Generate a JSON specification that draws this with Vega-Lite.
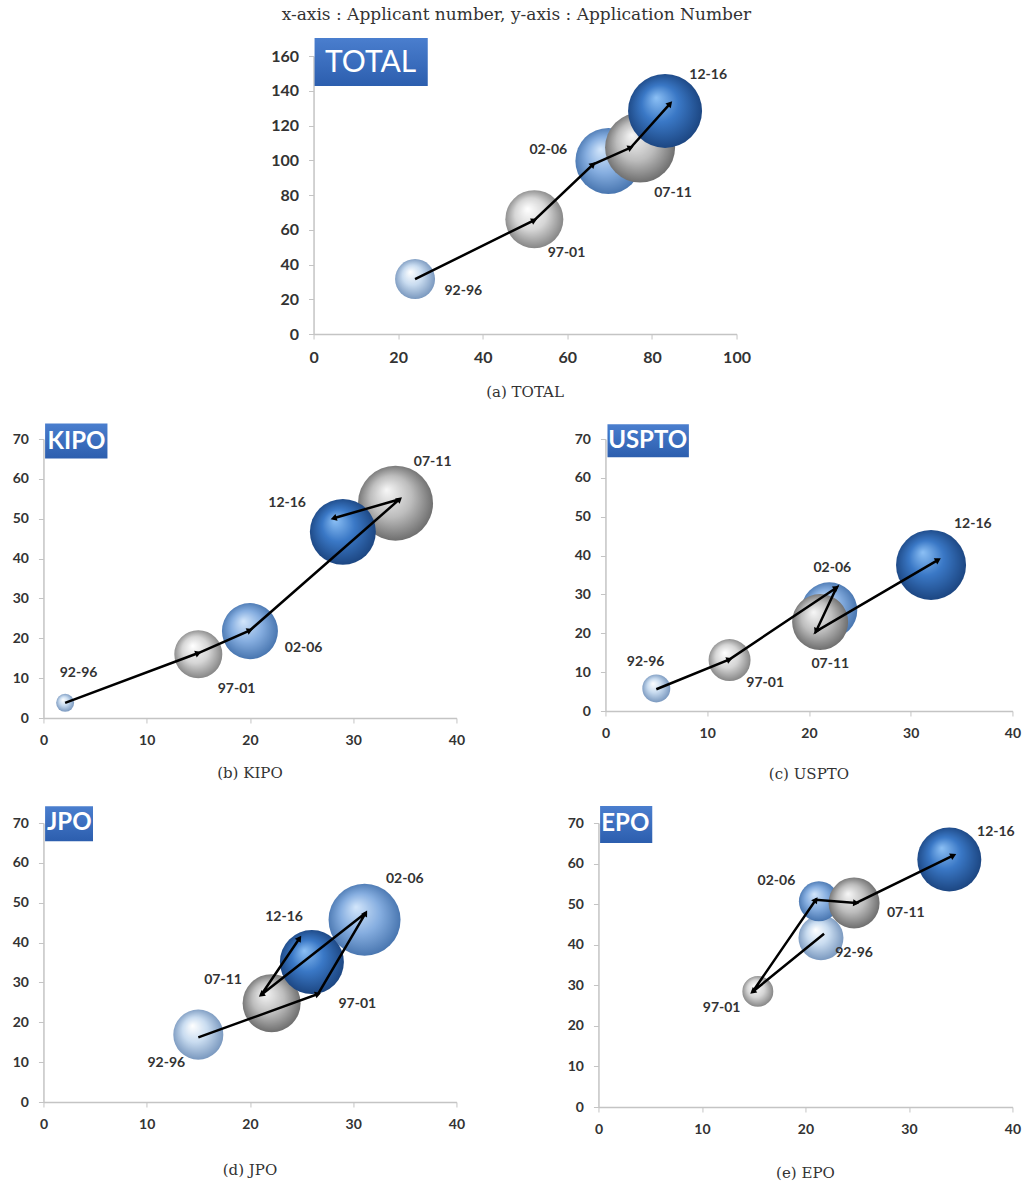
{
  "$schema": "https://vega.github.io/schema/vega-lite/v6.json",
  "padding": {"left": 12, "right": 5, "top": 5, "bottom": 5},
  "background": "white",
  "title": {"text": "x-axis : Applicant number, y-axis : Application Number", "font": "DejaVu Serif", "fontSize": 17, "fontWeight": "normal", "color": "#333333", "anchor": "middle", "offset": 14},
  "spacing": 23,
  "center": true,
  "datasets": {
    "pts": [
      {"panel": "TOTAL", "period": "92-96", "seq": 1, "x": 24.0, "y": 31.6, "z": 29.2, "ax": 24.0, "ay": 31.6, "ang": 0, "lx": 35.4, "ly": 24.9},
      {"panel": "TOTAL", "period": "97-01", "seq": 2, "x": 52.2, "y": 66.1, "z": 61.4, "ax": 52.2, "ay": 65.5, "ang": 63.7, "lx": 59.8, "ly": 46.4},
      {"panel": "TOTAL", "period": "02-06", "seq": 3, "x": 69.7, "y": 99.6, "z": 79.5, "ax": 66.1, "ay": 97.7, "ang": 46.5, "lx": 55.5, "ly": 105.8},
      {"panel": "TOTAL", "period": "07-11", "seq": 4, "x": 77.2, "y": 107.3, "z": 89.5, "ax": 75.0, "ay": 107.3, "ang": 66.1, "lx": 85.0, "ly": 81.0},
      {"panel": "TOTAL", "period": "12-16", "seq": 5, "x": 83.1, "y": 128.4, "z": 100, "ax": 84.3, "ay": 132.6, "ang": 41.6, "lx": 93.3, "ly": 149.1},
      {"panel": "KIPO", "period": "92-96", "seq": 1, "x": 2.1, "y": 3.8, "z": 5.9, "ax": 2.1, "ay": 3.8, "ang": 0, "lx": 3.4, "ly": 11.4},
      {"panel": "KIPO", "period": "97-01", "seq": 2, "x": 15.0, "y": 16.0, "z": 42.1, "ax": 15.0, "ay": 16.3, "ang": 69.4, "lx": 18.7, "ly": 7.4},
      {"panel": "KIPO", "period": "02-06", "seq": 3, "x": 20.0, "y": 21.8, "z": 57.3, "ax": 20.0, "ay": 22.0, "ang": 65.4, "lx": 25.2, "ly": 17.6},
      {"panel": "KIPO", "period": "07-11", "seq": 4, "x": 34.1, "y": 53.9, "z": 102.7, "ax": 34.5, "ay": 54.9, "ang": 48.9, "lx": 37.7, "ly": 64.3},
      {"panel": "KIPO", "period": "12-16", "seq": 5, "x": 29.0, "y": 46.7, "z": 79.5, "ax": 28.1, "ay": 50.1, "ang": 253.6, "lx": 23.6, "ly": 53.9},
      {"panel": "USPTO", "period": "92-96", "seq": 1, "x": 5.0, "y": 5.8, "z": 14.3, "ax": 5.0, "ay": 5.6, "ang": 0, "lx": 3.95, "ly": 12.5},
      {"panel": "USPTO", "period": "97-01", "seq": 2, "x": 12.2, "y": 13.1, "z": 32.2, "ax": 12.2, "ay": 13.3, "ang": 67.2, "lx": 15.7, "ly": 7.1},
      {"panel": "USPTO", "period": "02-06", "seq": 3, "x": 22.0, "y": 25.9, "z": 57.3, "ax": 22.7, "ay": 31.7, "ang": 56.1, "lx": 22.3, "ly": 36.9},
      {"panel": "USPTO", "period": "07-11", "seq": 4, "x": 21.1, "y": 22.9, "z": 57.3, "ax": 20.7, "ay": 20.5, "ang": 204.6, "lx": 22.1, "ly": 12.0},
      {"panel": "USPTO", "period": "12-16", "seq": 5, "x": 32.0, "y": 37.6, "z": 89.5, "ax": 32.7, "ay": 38.9, "ang": 59.4, "lx": 36.1, "ly": 48.2},
      {"panel": "JPO", "period": "92-96", "seq": 1, "x": 15.0, "y": 16.9, "z": 45.7, "ax": 15.0, "ay": 16.2, "ang": 0, "lx": 11.9, "ly": 9.8},
      {"panel": "JPO", "period": "97-01", "seq": 2, "x": 26.6, "y": 27.1, "z": 0, "ax": 26.6, "ay": 27.1, "ang": 70.1, "lx": 30.4, "ly": 24.6},
      {"panel": "JPO", "period": "02-06", "seq": 3, "x": 31.1, "y": 45.7, "z": 94.7, "ax": 31.2, "ay": 47.4, "ang": 30.5, "lx": 35.0, "ly": 56.0},
      {"panel": "JPO", "period": "07-11", "seq": 4, "x": 22.1, "y": 24.8, "z": 61.4, "ax": 21.1, "ay": 26.9, "ang": 232, "lx": 17.4, "ly": 30.5},
      {"panel": "JPO", "period": "12-16", "seq": 5, "x": 26.0, "y": 35.1, "z": 74.8, "ax": 24.8, "ay": 41.1, "ang": 34.1, "lx": 23.3, "ly": 46.3},
      {"panel": "EPO", "period": "92-96", "seq": 1, "x": 21.5, "y": 41.7, "z": 37.0, "ax": 21.8, "ay": 42.7, "ang": 0, "lx": 24.7, "ly": 38.0},
      {"panel": "EPO", "period": "97-01", "seq": 2, "x": 15.4, "y": 28.5, "z": 17.5, "ax": 14.9, "ay": 28.4, "ang": 231.3, "lx": 11.9, "ly": 24.3},
      {"panel": "EPO", "period": "02-06", "seq": 3, "x": 21.3, "y": 50.7, "z": 29.2, "ax": 21.0, "ay": 51.1, "ang": 34.7, "lx": 17.2, "ly": 55.6},
      {"panel": "EPO", "period": "07-11", "seq": 4, "x": 24.7, "y": 50.3, "z": 47.5, "ax": 24.9, "ay": 50.3, "ang": 94.7, "lx": 29.7, "ly": 47.8},
      {"panel": "EPO", "period": "12-16", "seq": 5, "x": 33.9, "y": 61.0, "z": 74.8, "ax": 34.3, "ay": 62.0, "ang": 64.1, "lx": 38.4, "ly": 67.9}
    ]
  },
  "vconcat": [
    {
      "width": 423, "height": 278,
      "title": {"text": "(a) TOTAL", "orient": "bottom", "offset": 20},
      "data": {"name": "pts"},
      "transform": [{"filter": "datum.panel === 'TOTAL'"}],
      "layer": [
        {"transform": [{"filter": "datum.period === '92-96'"}], "mark": {"type": "circle", "opacity": 1, "color": {"gradient": "radial", "x1": 0.38, "y1": 0.32, "r1": 0, "x2": 0.5, "y2": 0.5, "r2": 0.55, "stops": [{"offset": 0, "color": "#ffffff"}, {"offset": 0.45, "color": "#c9dcf0"}, {"offset": 1, "color": "#6f8fb8"}]}},
         "encoding": {
           "x": {"field": "x", "type": "quantitative", "scale": {"domain": [0, 100], "nice": false}, "axis": {"title": null, "values": [0, 20, 40, 60, 80, 100], "labelFontSize": 16}},
           "y": {"field": "y", "type": "quantitative", "scale": {"domain": [0, 160], "nice": false}, "axis": {"title": null, "values": [0, 20, 40, 60, 80, 100, 120, 140, 160], "labelFontSize": 16}},
           "size": {"field": "z", "type": "quantitative", "scale": {"domain": [0, 100], "range": [0, 5476]}, "legend": null}}},
        {"transform": [{"filter": "datum.period === '97-01'"}], "mark": {"type": "circle", "opacity": 1, "color": {"gradient": "radial", "x1": 0.38, "y1": 0.32, "r1": 0, "x2": 0.5, "y2": 0.5, "r2": 0.55, "stops": [{"offset": 0, "color": "#ffffff"}, {"offset": 0.5, "color": "#d6d6d6"}, {"offset": 1, "color": "#7a7a7a"}]}},
         "encoding": {"x": {"field": "x", "type": "quantitative", "axis": {"title": null, "values": [0, 20, 40, 60, 80, 100], "labelFontSize": 16}}, "y": {"field": "y", "type": "quantitative", "axis": {"title": null, "values": [0, 20, 40, 60, 80, 100, 120, 140, 160], "labelFontSize": 16}}, "size": {"field": "z", "type": "quantitative", "legend": null}}},
        {"transform": [{"filter": "datum.period === '02-06'"}], "mark": {"type": "circle", "opacity": 1, "color": {"gradient": "radial", "x1": 0.38, "y1": 0.32, "r1": 0, "x2": 0.5, "y2": 0.5, "r2": 0.55, "stops": [{"offset": 0, "color": "#d3e6fb"}, {"offset": 0.5, "color": "#86aee0"}, {"offset": 1, "color": "#3f6da8"}]}},
         "encoding": {"x": {"field": "x", "type": "quantitative", "axis": {"title": null, "values": [0, 20, 40, 60, 80, 100], "labelFontSize": 16}}, "y": {"field": "y", "type": "quantitative", "axis": {"title": null, "values": [0, 20, 40, 60, 80, 100, 120, 140, 160], "labelFontSize": 16}}, "size": {"field": "z", "type": "quantitative", "legend": null}}},
        {"transform": [{"filter": "datum.period === '07-11'"}], "mark": {"type": "circle", "opacity": 1, "color": {"gradient": "radial", "x1": 0.38, "y1": 0.32, "r1": 0, "x2": 0.5, "y2": 0.5, "r2": 0.55, "stops": [{"offset": 0, "color": "#f7f7f7"}, {"offset": 0.5, "color": "#bdbdbd"}, {"offset": 1, "color": "#626262"}]}},
         "encoding": {"x": {"field": "x", "type": "quantitative", "axis": {"title": null, "values": [0, 20, 40, 60, 80, 100], "labelFontSize": 16}}, "y": {"field": "y", "type": "quantitative", "axis": {"title": null, "values": [0, 20, 40, 60, 80, 100, 120, 140, 160], "labelFontSize": 16}}, "size": {"field": "z", "type": "quantitative", "legend": null}}},
        {"transform": [{"filter": "datum.period === '12-16'"}], "mark": {"type": "circle", "opacity": 1, "color": {"gradient": "radial", "x1": 0.38, "y1": 0.32, "r1": 0, "x2": 0.5, "y2": 0.5, "r2": 0.55, "stops": [{"offset": 0, "color": "#8cc0f5"}, {"offset": 0.45, "color": "#3a78c6"}, {"offset": 1, "color": "#183f78"}]}},
         "encoding": {"x": {"field": "x", "type": "quantitative", "axis": {"title": null, "values": [0, 20, 40, 60, 80, 100], "labelFontSize": 16}}, "y": {"field": "y", "type": "quantitative", "axis": {"title": null, "values": [0, 20, 40, 60, 80, 100, 120, 140, 160], "labelFontSize": 16}}, "size": {"field": "z", "type": "quantitative", "legend": null}}},
        {"mark": {"type": "line", "color": "black", "strokeWidth": 2.5},
         "encoding": {"x": {"field": "ax", "type": "quantitative", "axis": {"title": null, "values": [0, 20, 40, 60, 80, 100], "labelFontSize": 16}}, "y": {"field": "ay", "type": "quantitative", "axis": {"title": null, "values": [0, 20, 40, 60, 80, 100, 120, 140, 160], "labelFontSize": 16}}, "order": {"field": "seq"}}},
        {"transform": [{"filter": "datum.seq > 1"}],
         "mark": {"type": "point", "shape": "triangle-up", "filled": true, "color": "black", "opacity": 1, "size": 50},
         "encoding": {"x": {"field": "ax", "type": "quantitative", "axis": {"title": null, "values": [0, 20, 40, 60, 80, 100], "labelFontSize": 16}}, "y": {"field": "ay", "type": "quantitative", "axis": {"title": null, "values": [0, 20, 40, 60, 80, 100, 120, 140, 160], "labelFontSize": 16}}, "angle": {"field": "ang", "type": "quantitative", "scale": null}}},
        {"mark": {"type": "text", "font": "Lato", "fontWeight": "bold", "fontSize": 14, "color": "#333333"},
         "encoding": {"x": {"field": "lx", "type": "quantitative", "axis": {"title": null, "values": [0, 20, 40, 60, 80, 100], "labelFontSize": 16}}, "y": {"field": "ly", "type": "quantitative", "axis": {"title": null, "values": [0, 20, 40, 60, 80, 100, 120, 140, 160], "labelFontSize": 16}}, "text": {"field": "period"}}},
        {"data": {"values": [{}]},
         "mark": {"type": "rect", "color": {"gradient": "linear", "x1": 0, "y1": 0, "x2": 0, "y2": 1, "stops": [{"offset": 0, "color": "#4a7ece"}, {"offset": 1, "color": "#2c5eae"}]}},
         "encoding": {"x": {"datum": 0.24, "axis": {"title": null, "values": [0, 20, 40, 60, 80, 100], "labelFontSize": 16}}, "x2": {"datum": 27.0}, "y": {"datum": 170.4, "axis": {"title": null, "values": [0, 20, 40, 60, 80, 100, 120, 140, 160], "labelFontSize": 16}}, "y2": {"datum": 142.7}}},
        {"data": {"values": [{}]},
         "mark": {"type": "text", "text": "TOTAL", "color": "white", "font": "Lato", "fontSize": 30},
         "encoding": {"x": {"datum": 13.5, "axis": {"title": null, "values": [0, 20, 40, 60, 80, 100], "labelFontSize": 16}}, "y": {"datum": 156.0, "axis": {"title": null, "values": [0, 20, 40, 60, 80, 100, 120, 140, 160], "labelFontSize": 16}}}}
      ]
    },
    {
      "spacing": 108,
      "hconcat": [
        {
          "width": 413, "height": 279,
          "title": {"text": "(b) KIPO", "orient": "bottom", "offset": 19},
          "data": {"name": "pts"},
          "transform": [{"filter": "datum.panel === 'KIPO'"}],
          "layer": [
            {"transform": [{"filter": "datum.period === '92-96'"}], "mark": {"type": "circle", "opacity": 1, "color": {"gradient": "radial", "x1": 0.38, "y1": 0.32, "r1": 0, "x2": 0.5, "y2": 0.5, "r2": 0.55, "stops": [{"offset": 0, "color": "#ffffff"}, {"offset": 0.45, "color": "#c9dcf0"}, {"offset": 1, "color": "#6f8fb8"}]}},
             "encoding": {
               "x": {"field": "x", "type": "quantitative", "scale": {"domain": [0, 40], "nice": false}, "axis": {"title": null, "values": [0, 10, 20, 30, 40]}},
               "y": {"field": "y", "type": "quantitative", "scale": {"domain": [0, 70], "nice": false}, "axis": {"title": null, "values": [0, 10, 20, 30, 40, 50, 60, 70]}},
               "size": {"field": "z", "type": "quantitative", "scale": {"domain": [0, 100], "range": [0, 5476]}, "legend": null}}},
            {"transform": [{"filter": "datum.period === '97-01'"}], "mark": {"type": "circle", "opacity": 1, "color": {"gradient": "radial", "x1": 0.38, "y1": 0.32, "r1": 0, "x2": 0.5, "y2": 0.5, "r2": 0.55, "stops": [{"offset": 0, "color": "#ffffff"}, {"offset": 0.5, "color": "#d6d6d6"}, {"offset": 1, "color": "#7a7a7a"}]}},
             "encoding": {"x": {"field": "x", "type": "quantitative", "axis": {"title": null, "values": [0, 10, 20, 30, 40]}}, "y": {"field": "y", "type": "quantitative", "axis": {"title": null, "values": [0, 10, 20, 30, 40, 50, 60, 70]}}, "size": {"field": "z", "type": "quantitative", "legend": null}}},
            {"transform": [{"filter": "datum.period === '02-06'"}], "mark": {"type": "circle", "opacity": 1, "color": {"gradient": "radial", "x1": 0.38, "y1": 0.32, "r1": 0, "x2": 0.5, "y2": 0.5, "r2": 0.55, "stops": [{"offset": 0, "color": "#d3e6fb"}, {"offset": 0.5, "color": "#86aee0"}, {"offset": 1, "color": "#3f6da8"}]}},
             "encoding": {"x": {"field": "x", "type": "quantitative", "axis": {"title": null, "values": [0, 10, 20, 30, 40]}}, "y": {"field": "y", "type": "quantitative", "axis": {"title": null, "values": [0, 10, 20, 30, 40, 50, 60, 70]}}, "size": {"field": "z", "type": "quantitative", "legend": null}}},
            {"transform": [{"filter": "datum.period === '07-11'"}], "mark": {"type": "circle", "opacity": 1, "color": {"gradient": "radial", "x1": 0.38, "y1": 0.32, "r1": 0, "x2": 0.5, "y2": 0.5, "r2": 0.55, "stops": [{"offset": 0, "color": "#f7f7f7"}, {"offset": 0.5, "color": "#bdbdbd"}, {"offset": 1, "color": "#626262"}]}},
             "encoding": {"x": {"field": "x", "type": "quantitative", "axis": {"title": null, "values": [0, 10, 20, 30, 40]}}, "y": {"field": "y", "type": "quantitative", "axis": {"title": null, "values": [0, 10, 20, 30, 40, 50, 60, 70]}}, "size": {"field": "z", "type": "quantitative", "legend": null}}},
            {"transform": [{"filter": "datum.period === '12-16'"}], "mark": {"type": "circle", "opacity": 1, "color": {"gradient": "radial", "x1": 0.38, "y1": 0.32, "r1": 0, "x2": 0.5, "y2": 0.5, "r2": 0.55, "stops": [{"offset": 0, "color": "#8cc0f5"}, {"offset": 0.45, "color": "#3a78c6"}, {"offset": 1, "color": "#183f78"}]}},
             "encoding": {"x": {"field": "x", "type": "quantitative", "axis": {"title": null, "values": [0, 10, 20, 30, 40]}}, "y": {"field": "y", "type": "quantitative", "axis": {"title": null, "values": [0, 10, 20, 30, 40, 50, 60, 70]}}, "size": {"field": "z", "type": "quantitative", "legend": null}}},
            {"mark": {"type": "line", "color": "black", "strokeWidth": 2.5},
             "encoding": {"x": {"field": "ax", "type": "quantitative", "axis": {"title": null, "values": [0, 10, 20, 30, 40]}}, "y": {"field": "ay", "type": "quantitative", "axis": {"title": null, "values": [0, 10, 20, 30, 40, 50, 60, 70]}}, "order": {"field": "seq"}}},
            {"transform": [{"filter": "datum.seq > 1"}],
             "mark": {"type": "point", "shape": "triangle-up", "filled": true, "color": "black", "opacity": 1, "size": 50},
             "encoding": {"x": {"field": "ax", "type": "quantitative", "axis": {"title": null, "values": [0, 10, 20, 30, 40]}}, "y": {"field": "ay", "type": "quantitative", "axis": {"title": null, "values": [0, 10, 20, 30, 40, 50, 60, 70]}}, "angle": {"field": "ang", "type": "quantitative", "scale": null}}},
            {"mark": {"type": "text", "font": "Lato", "fontWeight": "bold", "fontSize": 14, "color": "#333333"},
             "encoding": {"x": {"field": "lx", "type": "quantitative", "axis": {"title": null, "values": [0, 10, 20, 30, 40]}}, "y": {"field": "ly", "type": "quantitative", "axis": {"title": null, "values": [0, 10, 20, 30, 40, 50, 60, 70]}}, "text": {"field": "period"}}},
            {"data": {"values": [{}]},
             "mark": {"type": "rect", "color": {"gradient": "linear", "x1": 0, "y1": 0, "x2": 0, "y2": 1, "stops": [{"offset": 0, "color": "#4a7ece"}, {"offset": 1, "color": "#2c5eae"}]}},
             "encoding": {"x": {"datum": 0.16, "axis": {"title": null, "values": [0, 10, 20, 30, 40]}}, "x2": {"datum": 6.2}, "y": {"datum": 73.9, "axis": {"title": null, "values": [0, 10, 20, 30, 40, 50, 60, 70]}}, "y2": {"datum": 65.1}}},
            {"data": {"values": [{}]},
             "mark": {"type": "text", "text": "KIPO", "color": "white", "font": "Lato", "fontWeight": "bold", "fontSize": 24},
             "encoding": {"x": {"datum": 3.2, "axis": {"title": null, "values": [0, 10, 20, 30, 40]}}, "y": {"datum": 69.3, "axis": {"title": null, "values": [0, 10, 20, 30, 40, 50, 60, 70]}}}}
          ]
        },
        {
          "width": 407, "height": 272,
          "title": {"text": "(c) USPTO", "orient": "bottom", "offset": 27},
          "data": {"name": "pts"},
          "transform": [{"filter": "datum.panel === 'USPTO'"}],
          "layer": [
            {"transform": [{"filter": "datum.period === '92-96'"}], "mark": {"type": "circle", "opacity": 1, "color": {"gradient": "radial", "x1": 0.38, "y1": 0.32, "r1": 0, "x2": 0.5, "y2": 0.5, "r2": 0.55, "stops": [{"offset": 0, "color": "#ffffff"}, {"offset": 0.45, "color": "#c9dcf0"}, {"offset": 1, "color": "#6f8fb8"}]}},
             "encoding": {
               "x": {"field": "x", "type": "quantitative", "scale": {"domain": [0, 40], "nice": false}, "axis": {"title": null, "values": [0, 10, 20, 30, 40]}},
               "y": {"field": "y", "type": "quantitative", "scale": {"domain": [0, 70], "nice": false}, "axis": {"title": null, "values": [0, 10, 20, 30, 40, 50, 60, 70]}},
               "size": {"field": "z", "type": "quantitative", "scale": {"domain": [0, 100], "range": [0, 5476]}, "legend": null}}},
            {"transform": [{"filter": "datum.period === '97-01'"}], "mark": {"type": "circle", "opacity": 1, "color": {"gradient": "radial", "x1": 0.38, "y1": 0.32, "r1": 0, "x2": 0.5, "y2": 0.5, "r2": 0.55, "stops": [{"offset": 0, "color": "#ffffff"}, {"offset": 0.5, "color": "#d6d6d6"}, {"offset": 1, "color": "#7a7a7a"}]}},
             "encoding": {"x": {"field": "x", "type": "quantitative", "axis": {"title": null, "values": [0, 10, 20, 30, 40]}}, "y": {"field": "y", "type": "quantitative", "axis": {"title": null, "values": [0, 10, 20, 30, 40, 50, 60, 70]}}, "size": {"field": "z", "type": "quantitative", "legend": null}}},
            {"transform": [{"filter": "datum.period === '02-06'"}], "mark": {"type": "circle", "opacity": 1, "color": {"gradient": "radial", "x1": 0.38, "y1": 0.32, "r1": 0, "x2": 0.5, "y2": 0.5, "r2": 0.55, "stops": [{"offset": 0, "color": "#d3e6fb"}, {"offset": 0.5, "color": "#86aee0"}, {"offset": 1, "color": "#3f6da8"}]}},
             "encoding": {"x": {"field": "x", "type": "quantitative", "axis": {"title": null, "values": [0, 10, 20, 30, 40]}}, "y": {"field": "y", "type": "quantitative", "axis": {"title": null, "values": [0, 10, 20, 30, 40, 50, 60, 70]}}, "size": {"field": "z", "type": "quantitative", "legend": null}}},
            {"transform": [{"filter": "datum.period === '07-11'"}], "mark": {"type": "circle", "opacity": 1, "color": {"gradient": "radial", "x1": 0.38, "y1": 0.32, "r1": 0, "x2": 0.5, "y2": 0.5, "r2": 0.55, "stops": [{"offset": 0, "color": "#f7f7f7"}, {"offset": 0.5, "color": "#bdbdbd"}, {"offset": 1, "color": "#626262"}]}},
             "encoding": {"x": {"field": "x", "type": "quantitative", "axis": {"title": null, "values": [0, 10, 20, 30, 40]}}, "y": {"field": "y", "type": "quantitative", "axis": {"title": null, "values": [0, 10, 20, 30, 40, 50, 60, 70]}}, "size": {"field": "z", "type": "quantitative", "legend": null}}},
            {"transform": [{"filter": "datum.period === '12-16'"}], "mark": {"type": "circle", "opacity": 1, "color": {"gradient": "radial", "x1": 0.38, "y1": 0.32, "r1": 0, "x2": 0.5, "y2": 0.5, "r2": 0.55, "stops": [{"offset": 0, "color": "#8cc0f5"}, {"offset": 0.45, "color": "#3a78c6"}, {"offset": 1, "color": "#183f78"}]}},
             "encoding": {"x": {"field": "x", "type": "quantitative", "axis": {"title": null, "values": [0, 10, 20, 30, 40]}}, "y": {"field": "y", "type": "quantitative", "axis": {"title": null, "values": [0, 10, 20, 30, 40, 50, 60, 70]}}, "size": {"field": "z", "type": "quantitative", "legend": null}}},
            {"mark": {"type": "line", "color": "black", "strokeWidth": 2.5},
             "encoding": {"x": {"field": "ax", "type": "quantitative", "axis": {"title": null, "values": [0, 10, 20, 30, 40]}}, "y": {"field": "ay", "type": "quantitative", "axis": {"title": null, "values": [0, 10, 20, 30, 40, 50, 60, 70]}}, "order": {"field": "seq"}}},
            {"transform": [{"filter": "datum.seq > 1"}],
             "mark": {"type": "point", "shape": "triangle-up", "filled": true, "color": "black", "opacity": 1, "size": 50},
             "encoding": {"x": {"field": "ax", "type": "quantitative", "axis": {"title": null, "values": [0, 10, 20, 30, 40]}}, "y": {"field": "ay", "type": "quantitative", "axis": {"title": null, "values": [0, 10, 20, 30, 40, 50, 60, 70]}}, "angle": {"field": "ang", "type": "quantitative", "scale": null}}},
            {"mark": {"type": "text", "font": "Lato", "fontWeight": "bold", "fontSize": 14, "color": "#333333"},
             "encoding": {"x": {"field": "lx", "type": "quantitative", "axis": {"title": null, "values": [0, 10, 20, 30, 40]}}, "y": {"field": "ly", "type": "quantitative", "axis": {"title": null, "values": [0, 10, 20, 30, 40, 50, 60, 70]}}, "text": {"field": "period"}}},
            {"data": {"values": [{}]},
             "mark": {"type": "rect", "color": {"gradient": "linear", "x1": 0, "y1": 0, "x2": 0, "y2": 1, "stops": [{"offset": 0, "color": "#4a7ece"}, {"offset": 1, "color": "#2c5eae"}]}},
             "encoding": {"x": {"datum": 0.2, "axis": {"title": null, "values": [0, 10, 20, 30, 40]}}, "x2": {"datum": 8.2}, "y": {"datum": 73.8, "axis": {"title": null, "values": [0, 10, 20, 30, 40, 50, 60, 70]}}, "y2": {"datum": 65.3}}},
            {"data": {"values": [{}]},
             "mark": {"type": "text", "text": "USPTO", "color": "white", "font": "Lato", "fontWeight": "bold", "fontSize": 24},
             "encoding": {"x": {"datum": 4.15, "axis": {"title": null, "values": [0, 10, 20, 30, 40]}}, "y": {"datum": 69.6, "axis": {"title": null, "values": [0, 10, 20, 30, 40, 50, 60, 70]}}}}
          ]
        }
      ]
    },
    {
      "spacing": 101,
      "hconcat": [
        {
          "width": 413, "height": 279,
          "title": {"text": "(d) JPO", "orient": "bottom", "offset": 32},
          "data": {"name": "pts"},
          "transform": [{"filter": "datum.panel === 'JPO'"}],
          "layer": [
            {"transform": [{"filter": "datum.period === '92-96'"}], "mark": {"type": "circle", "opacity": 1, "color": {"gradient": "radial", "x1": 0.38, "y1": 0.32, "r1": 0, "x2": 0.5, "y2": 0.5, "r2": 0.55, "stops": [{"offset": 0, "color": "#ffffff"}, {"offset": 0.45, "color": "#c9dcf0"}, {"offset": 1, "color": "#6f8fb8"}]}},
             "encoding": {
               "x": {"field": "x", "type": "quantitative", "scale": {"domain": [0, 40], "nice": false}, "axis": {"title": null, "values": [0, 10, 20, 30, 40]}},
               "y": {"field": "y", "type": "quantitative", "scale": {"domain": [0, 70], "nice": false}, "axis": {"title": null, "values": [0, 10, 20, 30, 40, 50, 60, 70]}},
               "size": {"field": "z", "type": "quantitative", "scale": {"domain": [0, 100], "range": [0, 5476]}, "legend": null}}},
            {"transform": [{"filter": "datum.period === '97-01'"}], "mark": {"type": "circle", "opacity": 1, "color": {"gradient": "radial", "x1": 0.38, "y1": 0.32, "r1": 0, "x2": 0.5, "y2": 0.5, "r2": 0.55, "stops": [{"offset": 0, "color": "#ffffff"}, {"offset": 0.5, "color": "#d6d6d6"}, {"offset": 1, "color": "#7a7a7a"}]}},
             "encoding": {"x": {"field": "x", "type": "quantitative", "axis": {"title": null, "values": [0, 10, 20, 30, 40]}}, "y": {"field": "y", "type": "quantitative", "axis": {"title": null, "values": [0, 10, 20, 30, 40, 50, 60, 70]}}, "size": {"field": "z", "type": "quantitative", "legend": null}}},
            {"transform": [{"filter": "datum.period === '02-06'"}], "mark": {"type": "circle", "opacity": 1, "color": {"gradient": "radial", "x1": 0.38, "y1": 0.32, "r1": 0, "x2": 0.5, "y2": 0.5, "r2": 0.55, "stops": [{"offset": 0, "color": "#d3e6fb"}, {"offset": 0.5, "color": "#86aee0"}, {"offset": 1, "color": "#3f6da8"}]}},
             "encoding": {"x": {"field": "x", "type": "quantitative", "axis": {"title": null, "values": [0, 10, 20, 30, 40]}}, "y": {"field": "y", "type": "quantitative", "axis": {"title": null, "values": [0, 10, 20, 30, 40, 50, 60, 70]}}, "size": {"field": "z", "type": "quantitative", "legend": null}}},
            {"transform": [{"filter": "datum.period === '07-11'"}], "mark": {"type": "circle", "opacity": 1, "color": {"gradient": "radial", "x1": 0.38, "y1": 0.32, "r1": 0, "x2": 0.5, "y2": 0.5, "r2": 0.55, "stops": [{"offset": 0, "color": "#f7f7f7"}, {"offset": 0.5, "color": "#bdbdbd"}, {"offset": 1, "color": "#626262"}]}},
             "encoding": {"x": {"field": "x", "type": "quantitative", "axis": {"title": null, "values": [0, 10, 20, 30, 40]}}, "y": {"field": "y", "type": "quantitative", "axis": {"title": null, "values": [0, 10, 20, 30, 40, 50, 60, 70]}}, "size": {"field": "z", "type": "quantitative", "legend": null}}},
            {"transform": [{"filter": "datum.period === '12-16'"}], "mark": {"type": "circle", "opacity": 1, "color": {"gradient": "radial", "x1": 0.38, "y1": 0.32, "r1": 0, "x2": 0.5, "y2": 0.5, "r2": 0.55, "stops": [{"offset": 0, "color": "#8cc0f5"}, {"offset": 0.45, "color": "#3a78c6"}, {"offset": 1, "color": "#183f78"}]}},
             "encoding": {"x": {"field": "x", "type": "quantitative", "axis": {"title": null, "values": [0, 10, 20, 30, 40]}}, "y": {"field": "y", "type": "quantitative", "axis": {"title": null, "values": [0, 10, 20, 30, 40, 50, 60, 70]}}, "size": {"field": "z", "type": "quantitative", "legend": null}}},
            {"mark": {"type": "line", "color": "black", "strokeWidth": 2.5},
             "encoding": {"x": {"field": "ax", "type": "quantitative", "axis": {"title": null, "values": [0, 10, 20, 30, 40]}}, "y": {"field": "ay", "type": "quantitative", "axis": {"title": null, "values": [0, 10, 20, 30, 40, 50, 60, 70]}}, "order": {"field": "seq"}}},
            {"transform": [{"filter": "datum.seq > 1"}],
             "mark": {"type": "point", "shape": "triangle-up", "filled": true, "color": "black", "opacity": 1, "size": 50},
             "encoding": {"x": {"field": "ax", "type": "quantitative", "axis": {"title": null, "values": [0, 10, 20, 30, 40]}}, "y": {"field": "ay", "type": "quantitative", "axis": {"title": null, "values": [0, 10, 20, 30, 40, 50, 60, 70]}}, "angle": {"field": "ang", "type": "quantitative", "scale": null}}},
            {"mark": {"type": "text", "font": "Lato", "fontWeight": "bold", "fontSize": 14, "color": "#333333"},
             "encoding": {"x": {"field": "lx", "type": "quantitative", "axis": {"title": null, "values": [0, 10, 20, 30, 40]}}, "y": {"field": "ly", "type": "quantitative", "axis": {"title": null, "values": [0, 10, 20, 30, 40, 50, 60, 70]}}, "text": {"field": "period"}}},
            {"data": {"values": [{}]},
             "mark": {"type": "rect", "color": {"gradient": "linear", "x1": 0, "y1": 0, "x2": 0, "y2": 1, "stops": [{"offset": 0, "color": "#4a7ece"}, {"offset": 1, "color": "#2c5eae"}]}},
             "encoding": {"x": {"datum": 0.16, "axis": {"title": null, "values": [0, 10, 20, 30, 40]}}, "x2": {"datum": 4.8}, "y": {"datum": 74.2, "axis": {"title": null, "values": [0, 10, 20, 30, 40, 50, 60, 70]}}, "y2": {"datum": 65.4}}},
            {"data": {"values": [{}]},
             "mark": {"type": "text", "text": "JPO", "color": "white", "font": "Lato", "fontWeight": "bold", "fontSize": 24},
             "encoding": {"x": {"datum": 2.5, "axis": {"title": null, "values": [0, 10, 20, 30, 40]}}, "y": {"datum": 69.9, "axis": {"title": null, "values": [0, 10, 20, 30, 40, 50, 60, 70]}}}}
          ]
        },
        {
          "width": 414, "height": 284,
          "title": {"text": "(e) EPO", "orient": "bottom", "offset": 30},
          "data": {"name": "pts"},
          "transform": [{"filter": "datum.panel === 'EPO'"}],
          "layer": [
            {"transform": [{"filter": "datum.period === '92-96'"}], "mark": {"type": "circle", "opacity": 1, "color": {"gradient": "radial", "x1": 0.38, "y1": 0.32, "r1": 0, "x2": 0.5, "y2": 0.5, "r2": 0.55, "stops": [{"offset": 0, "color": "#ffffff"}, {"offset": 0.45, "color": "#c9dcf0"}, {"offset": 1, "color": "#6f8fb8"}]}},
             "encoding": {
               "x": {"field": "x", "type": "quantitative", "scale": {"domain": [0, 40], "nice": false}, "axis": {"title": null, "values": [0, 10, 20, 30, 40]}},
               "y": {"field": "y", "type": "quantitative", "scale": {"domain": [0, 70], "nice": false}, "axis": {"title": null, "values": [0, 10, 20, 30, 40, 50, 60, 70]}},
               "size": {"field": "z", "type": "quantitative", "scale": {"domain": [0, 100], "range": [0, 5476]}, "legend": null}}},
            {"transform": [{"filter": "datum.period === '97-01'"}], "mark": {"type": "circle", "opacity": 1, "color": {"gradient": "radial", "x1": 0.38, "y1": 0.32, "r1": 0, "x2": 0.5, "y2": 0.5, "r2": 0.55, "stops": [{"offset": 0, "color": "#ffffff"}, {"offset": 0.5, "color": "#d6d6d6"}, {"offset": 1, "color": "#7a7a7a"}]}},
             "encoding": {"x": {"field": "x", "type": "quantitative", "axis": {"title": null, "values": [0, 10, 20, 30, 40]}}, "y": {"field": "y", "type": "quantitative", "axis": {"title": null, "values": [0, 10, 20, 30, 40, 50, 60, 70]}}, "size": {"field": "z", "type": "quantitative", "legend": null}}},
            {"transform": [{"filter": "datum.period === '02-06'"}], "mark": {"type": "circle", "opacity": 1, "color": {"gradient": "radial", "x1": 0.38, "y1": 0.32, "r1": 0, "x2": 0.5, "y2": 0.5, "r2": 0.55, "stops": [{"offset": 0, "color": "#d3e6fb"}, {"offset": 0.5, "color": "#86aee0"}, {"offset": 1, "color": "#3f6da8"}]}},
             "encoding": {"x": {"field": "x", "type": "quantitative", "axis": {"title": null, "values": [0, 10, 20, 30, 40]}}, "y": {"field": "y", "type": "quantitative", "axis": {"title": null, "values": [0, 10, 20, 30, 40, 50, 60, 70]}}, "size": {"field": "z", "type": "quantitative", "legend": null}}},
            {"transform": [{"filter": "datum.period === '07-11'"}], "mark": {"type": "circle", "opacity": 1, "color": {"gradient": "radial", "x1": 0.38, "y1": 0.32, "r1": 0, "x2": 0.5, "y2": 0.5, "r2": 0.55, "stops": [{"offset": 0, "color": "#f7f7f7"}, {"offset": 0.5, "color": "#bdbdbd"}, {"offset": 1, "color": "#626262"}]}},
             "encoding": {"x": {"field": "x", "type": "quantitative", "axis": {"title": null, "values": [0, 10, 20, 30, 40]}}, "y": {"field": "y", "type": "quantitative", "axis": {"title": null, "values": [0, 10, 20, 30, 40, 50, 60, 70]}}, "size": {"field": "z", "type": "quantitative", "legend": null}}},
            {"transform": [{"filter": "datum.period === '12-16'"}], "mark": {"type": "circle", "opacity": 1, "color": {"gradient": "radial", "x1": 0.38, "y1": 0.32, "r1": 0, "x2": 0.5, "y2": 0.5, "r2": 0.55, "stops": [{"offset": 0, "color": "#8cc0f5"}, {"offset": 0.45, "color": "#3a78c6"}, {"offset": 1, "color": "#183f78"}]}},
             "encoding": {"x": {"field": "x", "type": "quantitative", "axis": {"title": null, "values": [0, 10, 20, 30, 40]}}, "y": {"field": "y", "type": "quantitative", "axis": {"title": null, "values": [0, 10, 20, 30, 40, 50, 60, 70]}}, "size": {"field": "z", "type": "quantitative", "legend": null}}},
            {"mark": {"type": "line", "color": "black", "strokeWidth": 2.5},
             "encoding": {"x": {"field": "ax", "type": "quantitative", "axis": {"title": null, "values": [0, 10, 20, 30, 40]}}, "y": {"field": "ay", "type": "quantitative", "axis": {"title": null, "values": [0, 10, 20, 30, 40, 50, 60, 70]}}, "order": {"field": "seq"}}},
            {"transform": [{"filter": "datum.seq > 1"}],
             "mark": {"type": "point", "shape": "triangle-up", "filled": true, "color": "black", "opacity": 1, "size": 50},
             "encoding": {"x": {"field": "ax", "type": "quantitative", "axis": {"title": null, "values": [0, 10, 20, 30, 40]}}, "y": {"field": "ay", "type": "quantitative", "axis": {"title": null, "values": [0, 10, 20, 30, 40, 50, 60, 70]}}, "angle": {"field": "ang", "type": "quantitative", "scale": null}}},
            {"mark": {"type": "text", "font": "Lato", "fontWeight": "bold", "fontSize": 14, "color": "#333333"},
             "encoding": {"x": {"field": "lx", "type": "quantitative", "axis": {"title": null, "values": [0, 10, 20, 30, 40]}}, "y": {"field": "ly", "type": "quantitative", "axis": {"title": null, "values": [0, 10, 20, 30, 40, 50, 60, 70]}}, "text": {"field": "period"}}},
            {"data": {"values": [{}]},
             "mark": {"type": "rect", "color": {"gradient": "linear", "x1": 0, "y1": 0, "x2": 0, "y2": 1, "stops": [{"offset": 0, "color": "#4a7ece"}, {"offset": 1, "color": "#2c5eae"}]}},
             "encoding": {"x": {"datum": 0.16, "axis": {"title": null, "values": [0, 10, 20, 30, 40]}}, "x2": {"datum": 5.2}, "y": {"datum": 74.2, "axis": {"title": null, "values": [0, 10, 20, 30, 40, 50, 60, 70]}}, "y2": {"datum": 65.1}}},
            {"data": {"values": [{}]},
             "mark": {"type": "text", "text": "EPO", "color": "white", "font": "Lato", "fontWeight": "bold", "fontSize": 24},
             "encoding": {"x": {"datum": 2.6, "axis": {"title": null, "values": [0, 10, 20, 30, 40]}}, "y": {"datum": 69.8, "axis": {"title": null, "values": [0, 10, 20, 30, 40, 50, 60, 70]}}}}
          ]
        }
      ]
    }
  ],
  "config": {
    "view": {"stroke": null},
    "axis": {"grid": false, "labelFont": "Lato", "labelFontWeight": "bold", "labelFontSize": 14, "labelColor": "#333333", "labelOverlap": false, "domainColor": "#c4c4c4", "tickColor": "#c4c4c4", "tickSize": 5, "labelPadding": 10, "labelFlush": false, "domainWidth": 1.5},
    "title": {"font": "DejaVu Serif", "fontSize": 15, "fontWeight": "normal", "color": "#333333"}
  }
}
